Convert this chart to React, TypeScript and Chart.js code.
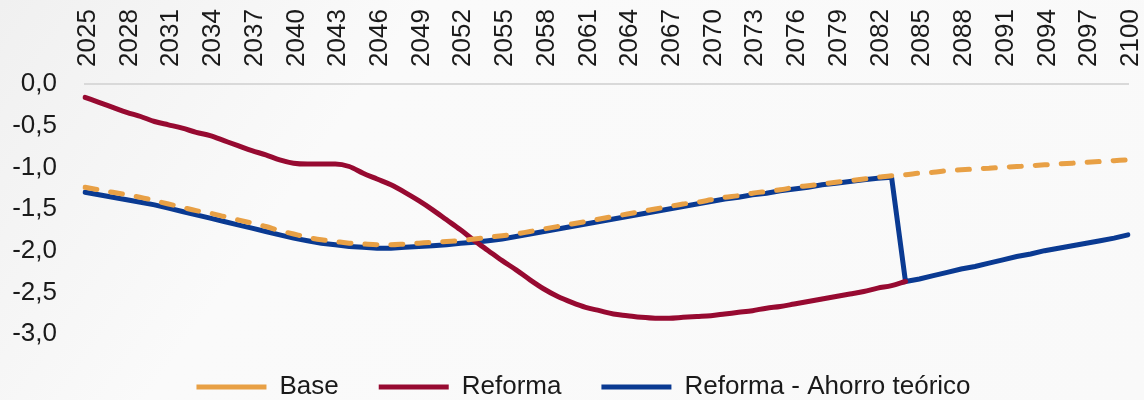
import React, { useEffect, useRef } from "react";
import { Chart, registerables } from "chart.js";

Chart.register(...registerables);

const years: string[] = [];
for (let y = 2025; y <= 2100; y++) years.push(String(y));

const baseValues: number[] = [
  -1.24, -1.27, -1.30, -1.33, -1.36, -1.40, -1.44, -1.48, -1.52, -1.55,
  -1.59, -1.63, -1.67, -1.71, -1.76, -1.80, -1.84, -1.87, -1.89, -1.91,
  -1.92, -1.93, -1.93, -1.92, -1.91, -1.90, -1.89, -1.88, -1.86, -1.84,
  -1.82, -1.80, -1.77, -1.74, -1.71, -1.68, -1.65, -1.62, -1.59, -1.56,
  -1.53, -1.50, -1.47, -1.44, -1.42, -1.39, -1.36, -1.34, -1.31, -1.29,
  -1.27, -1.24, -1.22, -1.20, -1.18, -1.16, -1.14, -1.12, -1.10, -1.09,
  -1.07, -1.06, -1.04, -1.03, -1.02, -1.01, -1.00, -0.99, -0.98, -0.97,
  -0.96, -0.95, -0.94, -0.93, -0.92, -0.91,
];

const reformaValues: (number | null)[] = [
  -0.16, -0.22, -0.28, -0.34, -0.39, -0.45, -0.49, -0.53, -0.58, -0.62,
  -0.68, -0.74, -0.80, -0.85, -0.91, -0.95, -0.96, -0.96, -0.96, -0.99,
  -1.07, -1.14, -1.21, -1.30, -1.40, -1.51, -1.63, -1.75, -1.88, -2.00,
  -2.12, -2.23, -2.35, -2.46, -2.55, -2.62, -2.68, -2.72, -2.76, -2.78,
  -2.80, -2.81, -2.81, -2.80, -2.79, -2.78, -2.76, -2.74, -2.72, -2.69,
  -2.67, -2.64, -2.61, -2.58, -2.55, -2.52, -2.49, -2.45, -2.42, -2.37,
  null, null, null, null, null, null, null, null, null, null,
  null, null, null, null, null, null,
];

const ahorroValues: number[] = [
  -1.30, -1.33, -1.36, -1.39, -1.42, -1.45, -1.49, -1.53, -1.57, -1.61,
  -1.65, -1.69, -1.73, -1.77, -1.81, -1.85, -1.88, -1.91, -1.93, -1.95,
  -1.96, -1.97, -1.97, -1.96, -1.95, -1.94, -1.93, -1.91, -1.90, -1.88,
  -1.86, -1.83, -1.80, -1.77, -1.74, -1.71, -1.68, -1.65, -1.62, -1.59,
  -1.56, -1.53, -1.50, -1.47, -1.44, -1.41, -1.38, -1.36, -1.33, -1.31,
  -1.28, -1.26, -1.24, -1.21, -1.19, -1.17, -1.15, -1.13, -1.12, -2.37,
  -2.34, -2.30, -2.26, -2.22, -2.19, -2.15, -2.11, -2.07, -2.04, -2.00,
  -1.97, -1.94, -1.91, -1.88, -1.85, -1.81,
];

const seriesNames = ["Base", "Reforma", "Reforma - Ahorro teórico"];
const yTicks = [0, -0.5, -1, -1.5, -2, -2.5, -3];

const FONT = "'Liberation Sans', Arial, sans-serif";
const TEXT = "#1a1a1a";

const legendShift = {
  id: "legendShift",
  afterLayout(chart: any) {
    if (chart.legend) chart.legend.left += 23;
  },
};

export default function App() {
  const canvasRef = useRef<HTMLCanvasElement | null>(null);

  useEffect(() => {
    const canvas = canvasRef.current;
    if (!canvas) return;
    const chart = new Chart(canvas, {
      type: "line",
      data: {
        labels: years,
        datasets: [
          {
            label: seriesNames[0],
            data: baseValues,
            borderColor: "#E8A045",
            backgroundColor: "#E8A045",
            borderWidth: 5,
            borderDash: [12, 14],
            borderCapStyle: "round",
            pointRadius: 0,
            cubicInterpolationMode: "monotone",
          },
          {
            label: seriesNames[1],
            data: reformaValues,
            borderColor: "#970A31",
            backgroundColor: "#970A31",
            borderWidth: 5,
            borderCapStyle: "round",
            pointRadius: 0,
            cubicInterpolationMode: "monotone",
          },
          {
            label: seriesNames[2],
            data: ahorroValues,
            borderColor: "#0A3A92",
            backgroundColor: "#0A3A92",
            borderWidth: 5,
            borderCapStyle: "round",
            pointRadius: 0,
            tension: 0,
          },
        ],
      },
      plugins: [legendShift],
      options: {
        responsive: false,
        animation: false,
        layout: { padding: { left: 0, right: 0, top: 0, bottom: -10 } },
        plugins: {
          tooltip: { enabled: false },
          legend: {
            position: "bottom",
            labels: {
              usePointStyle: true,
              pointStyle: "line",
              pointStyleWidth: 70,
              boxWidth: 70,
              padding: 40,
              color: TEXT,
              font: { family: FONT, size: 26 },
            },
          },
        },
        scales: {
          x: {
            type: "category",
            position: "top",
            grid: { display: false, drawTicks: false },
            border: { display: true, color: "#d9d9d9", width: 2 },
            ticks: {
              autoSkip: false,
              minRotation: 90,
              maxRotation: 90,
              padding: 17,
              labelOffset: 34,
              color: TEXT,
              font: { family: FONT, size: 26 },
              callback: (_v: any, i: number) =>
                (Number(years[i]) - 2025) % 3 === 0 ? years[i] : "",
            },
            afterFit: (scale: any) => {
              scale.height = 84;
              scale.paddingLeft = 0;
              scale.paddingRight = 16;
            },
          },
          y: {
            min: Math.min(...yTicks),
            max: Math.max(...yTicks),
            grid: { display: false, drawTicks: false },
            border: { display: false },
            ticks: {
              stepSize: 0.5,
              padding: 28,
              color: TEXT,
              font: { family: FONT, size: 26 },
              callback: (v: any) => Number(v).toFixed(1).replace(".", ","),
            },
            afterFit: (scale: any) => {
              scale.width = 85;
            },
          },
        },
      },
    });
    return () => chart.destroy();
  }, []);

  return (
    <div
      style={{
        position: "fixed",
        left: 0,
        top: 0,
        width: 1144,
        height: 400,
        background:
          "linear-gradient(125deg, #f0f0f0 0%, #f6f6f6 18%, #fafafa 30%, #f9f9f9 100%)",
      }}
    >
      <canvas ref={canvasRef} width={1144} height={400} />
    </div>
  );
}
